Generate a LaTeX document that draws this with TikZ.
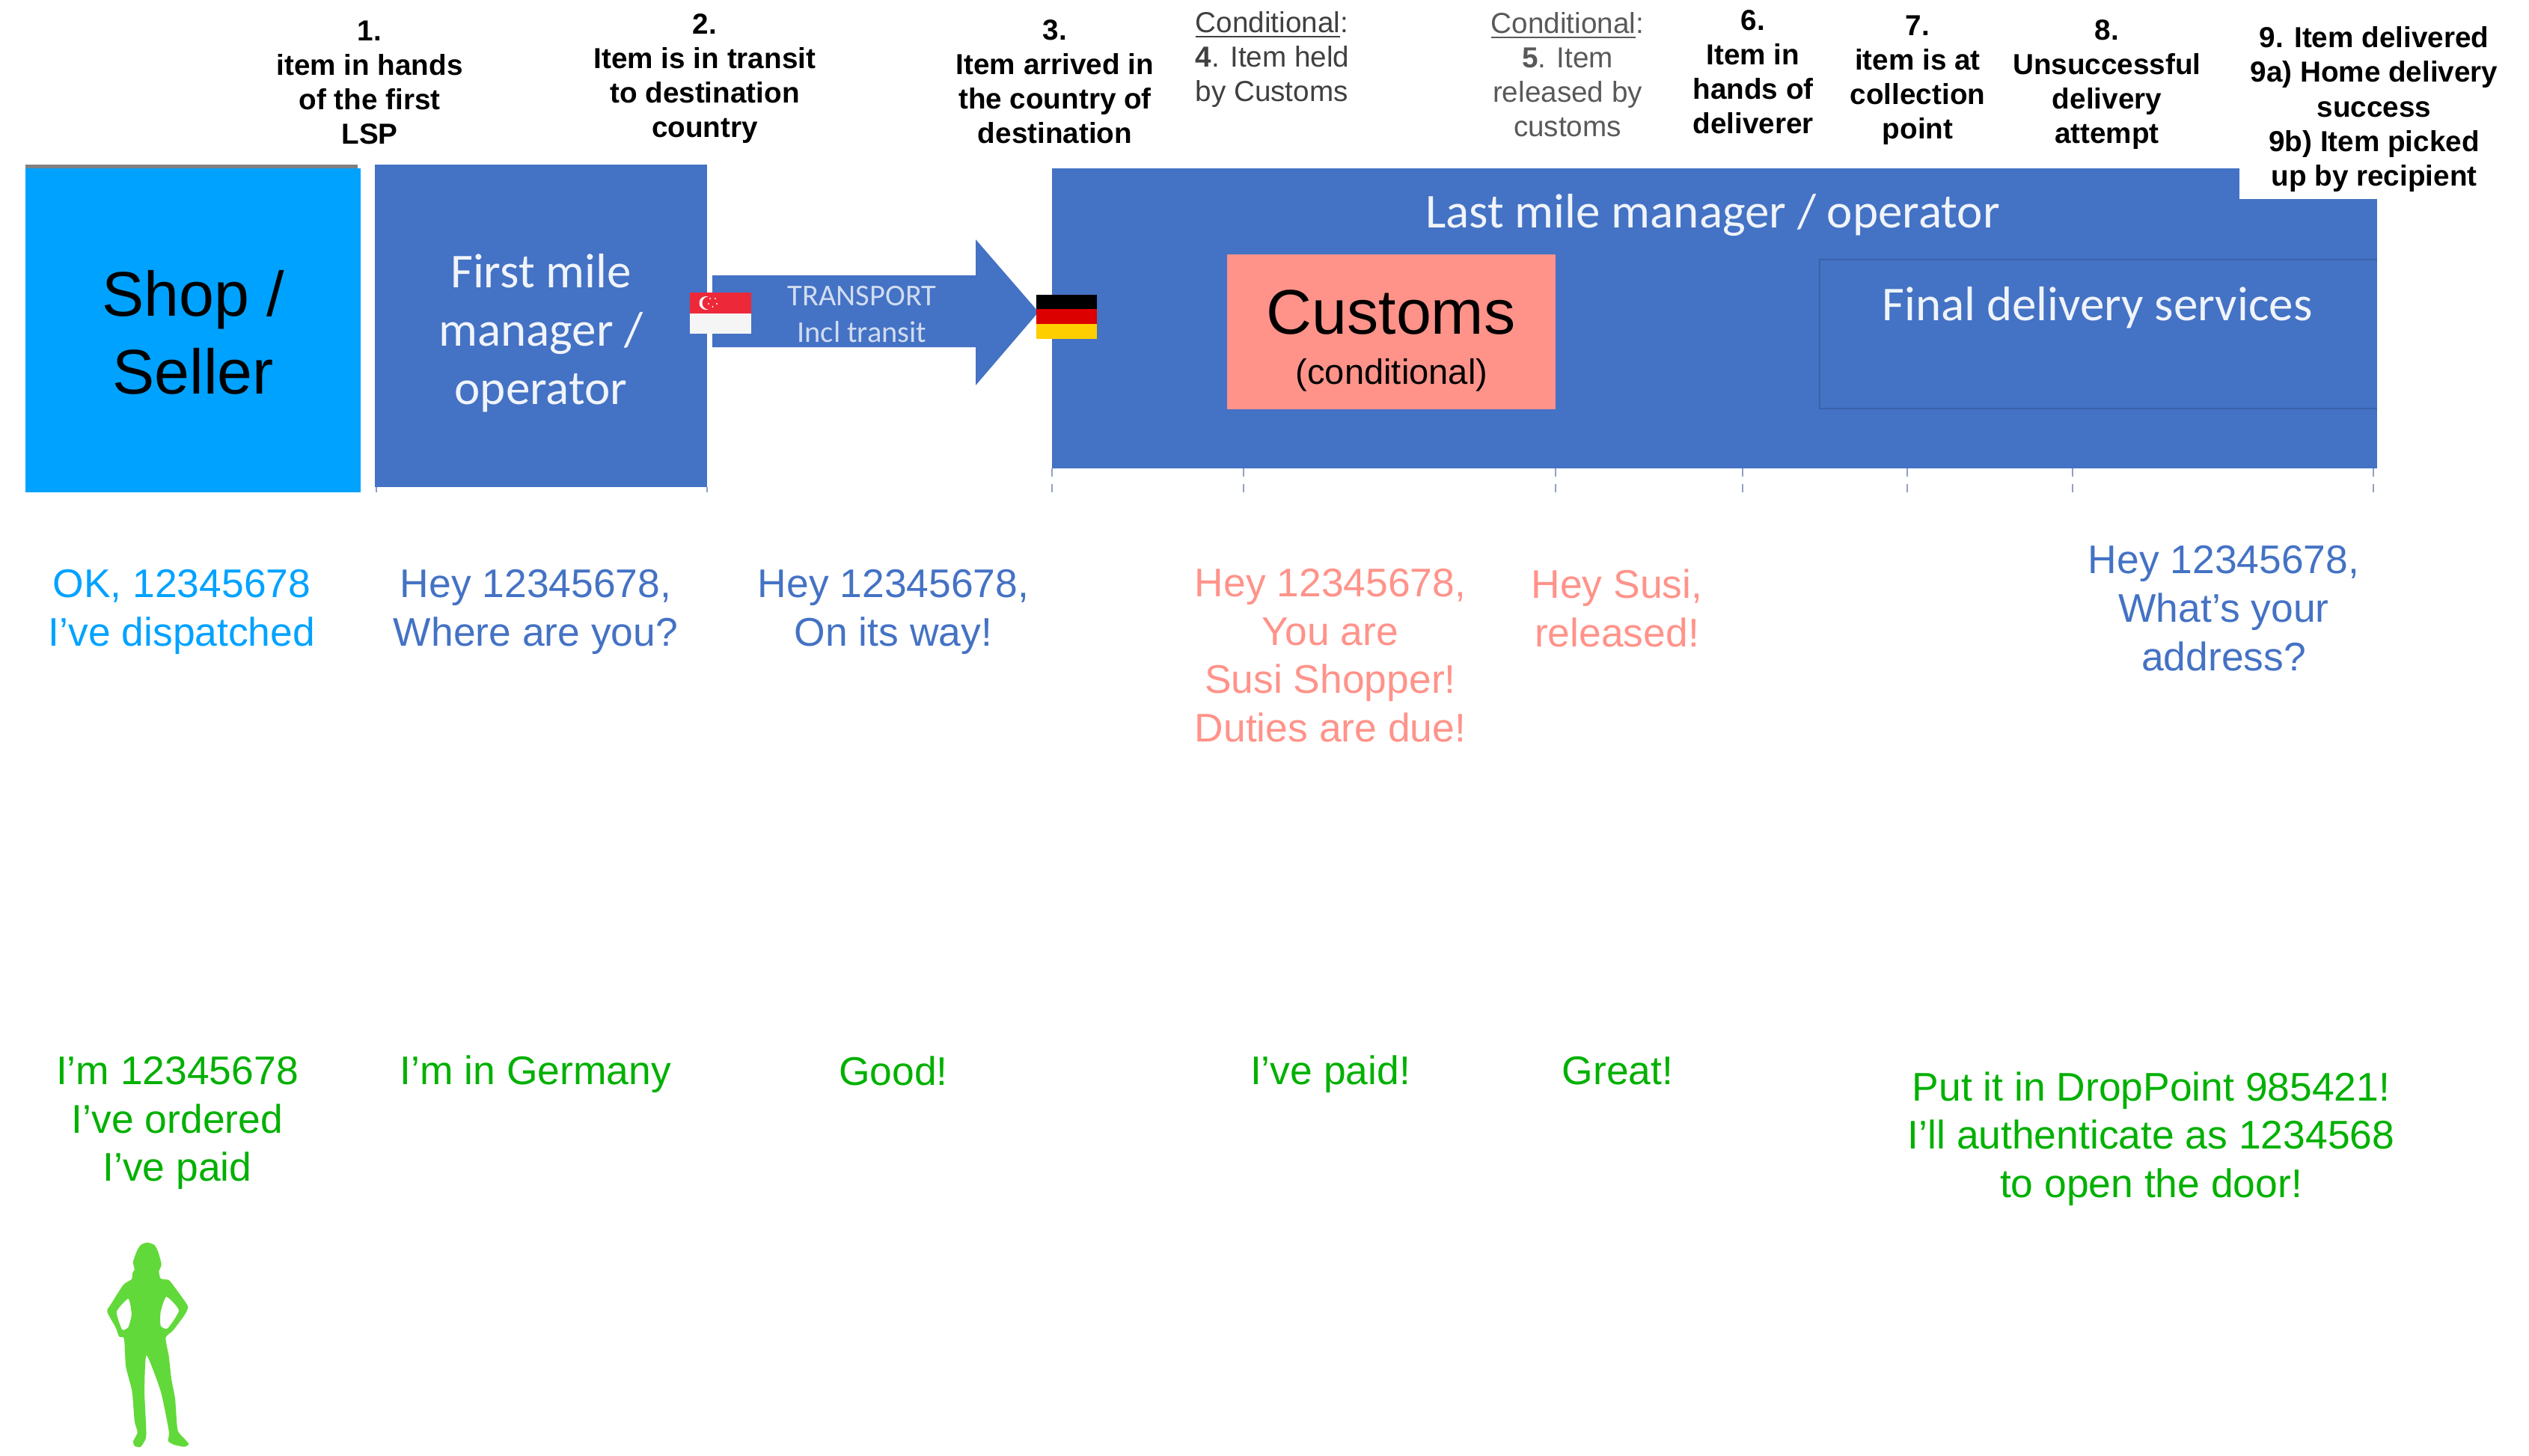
\documentclass[tikz,border=0pt]{standalone}
\usepackage{fontspec}
\setmainfont{Liberation Sans}
\newfontfamily\calibrifont{Carlito}
\definecolor{boxblue}{HTML}{4472C4}
\definecolor{boxedge}{HTML}{3A62AB}
\definecolor{shopblue}{HTML}{00A2FF}
\definecolor{customsred}{HTML}{FF938A}
\definecolor{replygreen}{HTML}{00B000}
\definecolor{personacolor}{HTML}{62D93A}
\definecolor{condgrey}{HTML}{595959}
\definecolor{sgred}{HTML}{ED2939}
\definecolor{dered}{HTML}{DD0000}
\definecolor{degold}{HTML}{FFCE00}
\tikzset{
    steplabel/.style={inner sep=0pt, align=center, font=\fontsize{11}{13.1}\selectfont\bfseries},
    condlabel/.style={inner sep=0pt, font=\fontsize{11}{13.1}\selectfont, text=condgrey},
    bigblack/.style={inner sep=0pt, align=center, font=\fontsize{24}{29.5}\selectfont},
    whitetext/.style={inner sep=0pt, align=center, text=white!92!boxblue, font=\calibrifont\fontsize{18.5}{22.2}\selectfont},
    message/.style={inner sep=0pt, align=center, font=\fontsize{15.2}{18.4}\selectfont},
    tickline/.style={dashed, boxblue!50!gray!70!white, line width=0.5pt}
}
\begin{document}
\begin{tikzpicture}[x=1cm,y=-1cm]
    \useasboundingbox (0,0) rectangle (33.8,19.45);

    \fill [gray] (0.34,2.20) rectangle (4.78,2.30);
    \fill [shopblue] (0.34,2.25) rectangle (4.82,6.58);
    \fill [boxblue] (5.01,2.20) rectangle (9.45,6.51);
    \fill [boxblue] (14.06,2.25) rectangle (31.77,6.26);
    \fill [boxblue] (9.52,3.68) -- (13.04,3.68) -- (13.04,3.20) -- (13.88,4.17) -- (13.04,5.15) -- (13.04,4.64) -- (9.52,4.64) -- cycle;
    \fill [customsred] (16.40,3.40) rectangle (20.79,5.47);
    \draw [boxedge, line width=0.8pt] (31.77,3.47) -- (24.32,3.47) -- (24.32,5.46) -- (31.77,5.46);
    \fill [white] (29.93,0) rectangle (33.8,2.66);

    \draw [tickline] (5.03,6.51) -- (5.03,6.58);
    \draw [tickline] (9.45,6.51) -- (9.45,6.58);
    \draw [tickline] (14.06,6.26) -- (14.06,6.58);
    \draw [tickline] (16.62,6.26) -- (16.62,6.58);
    \draw [tickline] (20.79,6.26) -- (20.79,6.58);
    \draw [tickline] (23.29,6.26) -- (23.29,6.58);
    \draw [tickline] (25.49,6.26) -- (25.49,6.58);
    \draw [tickline] (27.70,6.26) -- (27.70,6.58);
    \draw [tickline] (31.72,6.26) -- (31.72,6.58);

    \fill [sgred] (9.22,3.91) rectangle (10.04,4.19);
    \fill [white!96!black] (9.22,4.19) rectangle (10.04,4.46);
    \fill [white] (9.435,4.05) circle (0.09);
    \fill [sgred] (9.47,4.05) circle (0.085);
    \fill [white] (9.49,3.99) circle (0.012);
    \fill [white] (9.56,3.99) circle (0.012);
    \fill [white] (9.47,4.06) circle (0.012);
    \fill [white] (9.58,4.06) circle (0.012);
    \fill [white] (9.525,4.10) circle (0.012);

    \fill [black] (13.85,3.94) rectangle (14.66,4.13);
    \fill [dered] (13.85,4.13) rectangle (14.66,4.33);
    \fill [degold] (13.85,4.33) rectangle (14.66,4.53);

    \node [bigblack] (shop) at (2.58,4.44) {Shop /\\Seller};
    \node [whitetext] (firstmile) at (7.23,4.45) {First mile\\manager /\\operator};
    \node [whitetext] (lastmile) at (22.89,2.88) {Last mile manager / operator};
    \node [whitetext] (finaldelivery) at (28.03,4.11) {Final delivery services};
    \node [inner sep=0pt, align=center, text=white!75!boxblue, font=\calibrifont\fontsize{11.5}{14}\selectfont] (transport) at (11.52,4.20) {TRANSPORT\\Incl transit};
    \node [bigblack] (customs) at (18.59,4.17) {Customs};
    \node [inner sep=0pt, font=\fontsize{13.4}{16}\selectfont] (conditional) at (18.60,5.01) {(conditional)};

    \node [steplabel] (stepone) at (4.94,1.10) {1.\\item in hands\\of the first\\LSP};
    \node [steplabel] (steptwo) at (9.42,1.05) {2.\\Item is in transit\\to destination\\country};
    \node [steplabel] (stepthree) at (14.10,1.09) {3.\\Item arrived in\\the country of\\destination};
    \node [condlabel, align=left, anchor=north west, text=black!75] (stepfour) at (15.97,0.15) {\underline{Conditional}:\\\textbf{4}. Item held\\by Customs};
    \node [condlabel, align=center] (stepfive) at (20.95,1.00) {\underline{Conditional}:\\\textbf{5}. Item\\released by\\customs};
    \node [steplabel] (stepsix) at (23.43,0.96) {6.\\Item in\\hands of\\deliverer};
    \node [steplabel] (stepseven) at (25.63,1.07) {7.\\item is at\\collection\\point};
    \node [steplabel] (stepeight) at (28.16,1.13) {8.\\Unsuccessful\\delivery\\attempt};
    \node [steplabel] (stepnine) at (31.73,1.46) {9. Item delivered\\9a) Home delivery\\success\\9b) Item picked\\up by recipient};

    \node [message, text=shopblue] (dispatched) at (2.43,8.18) {OK, 12345678\\I’ve dispatched};
    \node [message, text=boxblue] (whereareyou) at (7.16,8.18) {Hey 12345678,\\Where are you?};
    \node [message, text=boxblue] (onitsway) at (11.94,8.18) {Hey 12345678,\\On its way!};
    \node [message, text=customsred] (dutiesdue) at (17.78,8.76) {Hey 12345678,\\You are\\Susi Shopper!\\Duties are due!};
    \node [message, text=customsred] (released) at (21.61,8.13) {Hey Susi,\\released!};
    \node [message, text=boxblue] (address) at (29.72,8.13) {Hey 12345678,\\What’s your\\address?};

    \node [message, text=replygreen] (ordered) at (2.37,15.01) {I’m 12345678\\I’ve ordered\\I’ve paid};
    \node [message, text=replygreen] (germany) at (7.16,14.36) {I’m in Germany};
    \node [message, text=replygreen] (good) at (11.94,14.31) {Good!};
    \node [message, text=replygreen] (paid) at (17.78,14.36) {I’ve paid!};
    \node [message, text=replygreen] (great) at (21.62,14.31) {Great!};
    \node [message, text=replygreen] (droppoint) at (28.75,15.22) {Put it in DropPoint 985421!\\I’ll authenticate as 1234568\\to open the door!};

    \begin{scope}[shift={(1,16.4)},x=0.00333cm,y=-0.00333cm]
        \fill [personacolor, even odd rule] plot [smooth cycle, tension=0.35] coordinates {(290,62) (320,72) (335,100) (348,150) (338,178) (345,207) (378,213) (400,240) (440,295) (455,322) (440,355) (395,415) (365,445) (378,520) (388,610) (403,690) (413,815) (440,850) (458,872) (440,883) (400,875) (375,860) (378,820) (345,660) (288,515) (280,660) (287,815) (285,850) (265,883) (240,880) (235,860) (252,825) (240,780) (230,660) (205,560) (198,448) (178,440) (165,405) (130,340) (145,310) (195,232) (228,210) (232,185) (240,170) (234,140) (250,95) (265,72)}
            plot [smooth cycle, tension=0.35] coordinates {(215,288) (168,340) (190,412) (215,402) (228,350)}
            plot [smooth cycle, tension=0.35] coordinates {(368,280) (418,335) (373,407) (345,397) (345,340)};
    \end{scope}
\end{tikzpicture}
\end{document}
